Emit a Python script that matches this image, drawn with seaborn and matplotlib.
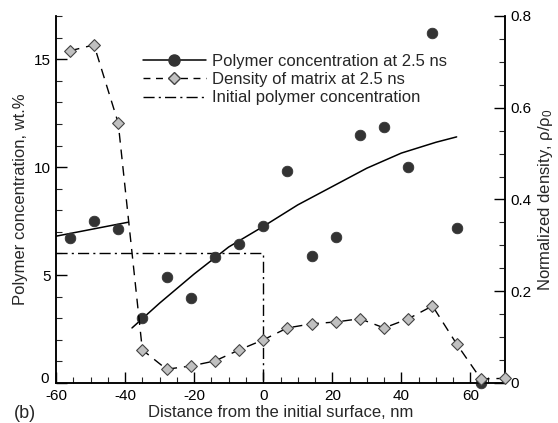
import numpy as np
import pandas as pd
import matplotlib
matplotlib.use("Agg")
import matplotlib.pyplot as plt
import matplotlib.transforms as mtransforms
from matplotlib.ticker import MultipleLocator, FuncFormatter
from matplotlib.lines import Line2D
import seaborn as sns

# ---- data ----
dist = [-56, -49, -42, -35, -28, -21, -14, -7, 0, 7, 14, 21, 28, 35, 42, 49, 56, 63]
polymer_conc = [6.7, 7.5, 7.15, 3.0, 4.9, 3.95, 5.85, 6.45, 7.25, 9.8, 5.9, 6.75,
                11.5, 11.85, 10.0, 16.2, 7.2, 0.0]

dens_x = [-56, -49, -42, -35, -28, -21, -14, -7, 0, 7, 14, 21, 28, 35, 42, 49, 56, 63, 70]
density = [0.724, 0.737, 0.567, 0.072, 0.030, 0.037, 0.048, 0.072, 0.094, 0.120,
           0.129, 0.133, 0.140, 0.120, 0.140, 0.168, 0.085, 0.009, 0.010]

fit1_x = [-60, -39]
fit1_y = [6.8, 7.45]
fit2_x = [-38, -30, -20, -10, 0, 10, 20, 30, 40, 50, 56]
fit2_y = [2.55, 3.7, 5.05, 6.3, 7.25, 8.25, 9.1, 9.95, 10.65, 11.15, 11.4]

init_x = [-60, 0, 0]
init_y = [6.0, 6.0, 0.0]

labels = ["Polymer concentration at 2.5 ns", "Density of matrix at 2.5 ns",
          "Initial polymer concentration"]

sns.set_style("ticks")
plt.rcParams['font.family'] = ['Liberation Sans', 'DejaVu Sans']
plt.rcParams['mathtext.fontset'] = 'custom'
plt.rcParams['mathtext.rm'] = 'Liberation Sans'
plt.rcParams['mathtext.it'] = 'Liberation Sans'
plt.rcParams['axes.unicode_minus'] = False

FS = 12
TFS = 11
dark = "#333333"
grey = "#c0c0c0"

fig = plt.figure(figsize=(5.58, 4.23), dpi=100)
ax = fig.add_axes([0.1004, 0.0946, 0.8046, 0.8676])
ax2 = ax.twinx()

# polymer concentration fits
sns.lineplot(x=fit1_x, y=fit1_y, ax=ax, color="black", lw=1.1, estimator=None, sort=False)
sns.lineplot(x=fit2_x, y=fit2_y, ax=ax, color="black", lw=1.1, estimator=None, sort=False)
# initial concentration
ax.plot(init_x, init_y, color="black", lw=1.0, dashes=(8, 3, 1.5, 3), clip_on=False)
# polymer points
sns.scatterplot(x=dist, y=polymer_conc, ax=ax, color=dark, s=58, edgecolor=dark,
                linewidth=0.6, zorder=5, clip_on=False)

# density
ax2.plot(dens_x, density, color="black", lw=1.0, dashes=(7, 5), clip_on=False, zorder=3)
sns.scatterplot(x=dens_x, y=density, ax=ax2, marker="D", color=grey, s=36,
                edgecolor="#444444", linewidth=0.8, zorder=6, clip_on=False)

ax.set_xlim(-60, 70)
ax.set_ylim(0, 17)
ax2.set_ylim(0, 0.8)

ax.xaxis.set_major_locator(MultipleLocator(20))
ax.xaxis.set_minor_locator(MultipleLocator(5))
ax.yaxis.set_major_locator(MultipleLocator(5))
ax.yaxis.set_minor_locator(MultipleLocator(1))
ax2.yaxis.set_major_locator(MultipleLocator(0.2))
ax2.yaxis.set_minor_locator(MultipleLocator(0.05))
ax2.yaxis.set_major_formatter(FuncFormatter(lambda v, p: "0" if abs(v) < 1e-9 else f"{v:g}"))

for a in (ax, ax2):
    a.tick_params(which="major", direction="in", length=8, width=1, labelsize=TFS, colors="black")
    a.tick_params(which="minor", direction="in", length=4.5, width=0.8)
    a.spines["top"].set_visible(False)
    for s in a.spines.values():
        s.set_linewidth(1.1)
        s.set_color("black")
ax.tick_params(axis="x", pad=4)
ax.tick_params(axis="y", pad=4)
ax2.tick_params(axis="y", pad=4)

ax.set_xlabel("Distance from the initial surface, nm", fontsize=FS, labelpad=2)
ax.set_ylabel("Polymer concentration, wt.%", fontsize=FS, labelpad=4)
ax2.set_ylabel(r"Normalized density, $\rho/\rho_0$", fontsize=FS, labelpad=3)

# nudge the left-axis "0" label upward so it clears the "-60" label
fig.canvas.draw()
for t in ax.yaxis.get_majorticklabels():
    if t.get_text() == "0":
        t.set_transform(t.get_transform() +
                        mtransforms.ScaledTranslation(-1 / 72, 4 / 72, fig.dpi_scale_trans))

handles = [
    Line2D([], [], color="black", lw=1.1, marker="o", markersize=8,
           markerfacecolor=dark, markeredgecolor=dark),
    Line2D([], [], color="black", lw=1.0, dashes=(5, 4), marker="D", markersize=6,
           markerfacecolor=grey, markeredgecolor="#444444"),
    Line2D([], [], color="black", lw=1.0, dashes=(8, 3, 1.5, 3)),
]
leg = ax.legend(handles, labels, loc="upper left", bbox_to_anchor=(0.193, 0.897),
                frameon=False, fontsize=FS, handlelength=3.8, handletextpad=0.36,
                labelspacing=0.2, numpoints=1, borderaxespad=0, borderpad=0)

fig.text(0.024, 0.003, "(b)", fontsize=FS + 1, ha="left", va="bottom")

fig.savefig("out.png", dpi=100)
